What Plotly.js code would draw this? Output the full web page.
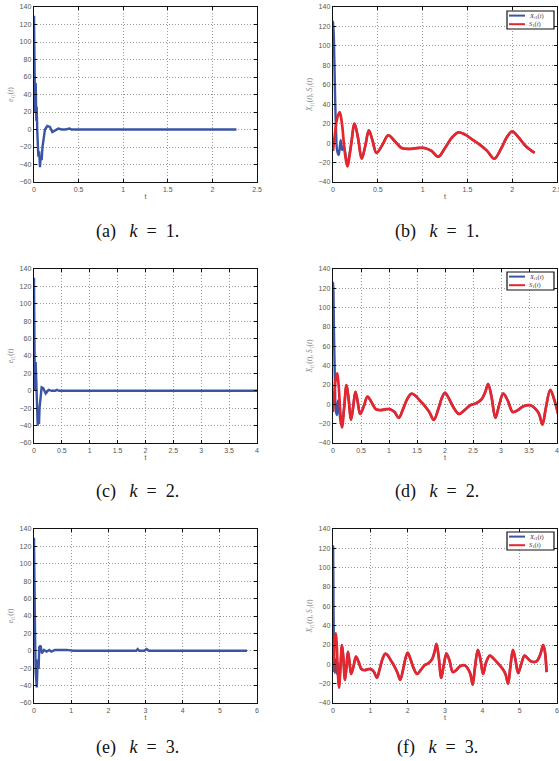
<!DOCTYPE html>
<html>
<head>
<meta charset="utf-8">
<script src="https://cdn.plot.ly/plotly-3.0.1.min.js"></script>
<style>html,body{margin:0;padding:0;background:#fff;}#chart{width:559px;height:761px;}</style>
</head>
<body>
<div id="chart"></div>
<script>
// ---------- data ----------
// error e_i1(t), panel (a) k=1
const tA = [0, 0.004, 0.012, 0.019, 0.026, 0.03, 0.037, 0.049, 0.058, 0.067, 0.076, 0.086, 0.095, 0.104, 0.123, 0.149, 0.179, 0.205, 0.235, 0.272, 0.31, 0.35, 0.40, 0.42, 2.27];
const eA = [130, 60, 20, 53, 10, 26, -3, -31, -25, -43, -30, -35, -20, -12, 0, 4, 3, -3, -1, 1, 0, 0, 1, 0, 0];
// panel (c) k=2
const tC = [0, 0.006, 0.015, 0.03, 0.045, 0.066, 0.08, 0.09, 0.1, 0.115, 0.137, 0.165, 0.21, 0.26, 0.32, 0.38, 0.41, 0.45, 4.0];
const eC = [130, 50, 0, 33, -11, -40, -26, -38, -19, -5, 4, 3, -3, 1, 0, 0, 1, 0, 0];
// panel (e) k=3
const tE = [0, 0.01, 0.03, 0.045, 0.06, 0.075, 0.1, 0.125, 0.14, 0.18, 0.21, 0.27, 0.34, 0.41, 0.47, 0.56, 0.88, 1.06, 2.75, 2.79, 2.83, 2.97, 3.03, 3.09, 5.73];
const eE = [130, 40, 13, -25, -38, -42, -10, -21, 4, 6, -3, 1, -1, 1, -1, 1, 1, 0, 0, 2, 0, 0, 2, 0, 0];

// reference signal S_1(t)
const tS = [0, 0.02, 0.045, 0.075, 0.10, 0.13, 0.16, 0.20, 0.24, 0.28, 0.32, 0.36, 0.40, 0.44, 0.485, 0.55, 0.616, 0.69, 0.765, 0.85, 0.95, 1.02, 1.10, 1.175, 1.25, 1.33, 1.40, 1.47, 1.55, 1.63, 1.72, 1.80, 1.88, 1.94, 2.0, 2.07, 2.15, 2.25, 2.35, 2.45, 2.55, 2.65, 2.72, 2.77, 2.83, 2.90, 2.97, 3.04, 3.12, 3.21, 3.30, 3.40, 3.53, 3.62, 3.68, 3.74, 3.80, 3.88, 3.95, 4.02, 4.10, 4.20, 4.30, 4.42, 4.55, 4.62, 4.69, 4.75, 4.82, 4.89, 4.96, 5.04, 5.13, 5.22, 5.31, 5.45, 5.55, 5.63, 5.68, 5.72];
const S1 = [-8, 8, 25, 32, 20, -8, -24, -3, 20, 5, -16, -3, 13, 3, -10, -2, 8, 2, -5, -6, -5, -5, -8, -14, -5, 6, 11, 9, 4, -1, -8, -16, -5, 6, 12, 6, -3, -10, -6, -1, 1, 5, 13, 21, 8, -14, 0, 11, 4, -8, -6, -2, -1, -5, -10, -21, -4, 15, 5, -10, 2, 9, 6, 1, -5, -10, -20, -3, 15, 4, -9, 0, 9, 6, 3, 3, 10, 20, 12, -8];

// early transient of X_i1(t) before it merges with S_1(t)
const tXb = [0, 0.004, 0.015, 0.025, 0.035, 0.045, 0.063, 0.075, 0.086, 0.1, 0.12, 0.14, 0.16, 0.2];
const Xb  = [120, 125, 86, 41, 10, -7, -12, -5, 3, -7, -3, -12, -22, -3];
const tXd = [0, 0.004, 0.02, 0.035, 0.05, 0.07, 0.09, 0.12, 0.155, 0.2];
const Xd  = [120, 126, 66, 22, -6, -11, 4, -11, -23, -3];
const tXf = [0, 0.004, 0.015, 0.03, 0.05, 0.07, 0.09, 0.11, 0.13, 0.16, 0.2];
const Xf  = [118, 122, 50, 10, -9, 5, -2, -10, 2, -24, -3];

const tEnd = [2.26, 4.02, 5.72];
const captions = ['(a)', '(b)', '(c)', '(d)', '(e)', '(f)'];
const kVals = [1, 1, 2, 2, 3, 3];
const xMax = [2.5, 4, 6];
const xStep = [0.5, 0.5, 1];

// ---------- helpers ----------
const BLUE = '#3b55a6', RED = '#e6252c';
function sPart(end) {
  const t = [], v = [];
  tS.forEach((x, i) => { if (x <= end + 1e-9) { t.push(x); v.push(S1[i]); } });
  return {t, v};
}
function xPart(te, ve, end) {
  const last = te[te.length - 1];
  const s = sPart(end);
  const t = te.slice(), v = ve.slice();
  s.t.forEach((x, i) => { if (x > last) { t.push(x); v.push(s.v[i]); } });
  return {t, v};
}

const traces = [];
const eSets = [[tA, eA], [tC, eC], [tE, eE]];
const xSets = [[tXb, Xb], [tXd, Xd], [tXf, Xf]];
const XNAME = '<i>X</i><sub><i>i</i>1</sub>(<i>t</i>)';
const SNAME = '<i>S</i><sub>1</sub>(<i>t</i>)';
const sfx = i => (i === 1 ? '' : String(i));

for (let r = 0; r < 3; r++) {
  const li = 2 * r + 1, ri = 2 * r + 2;
  traces.push({x: eSets[r][0], y: eSets[r][1], type: 'scatter', mode: 'lines',
    line: {color: BLUE, width: 2.4}, xaxis: 'x' + sfx(li), yaxis: 'y' + sfx(li), showlegend: false});
  const xp = xPart(xSets[r][0], xSets[r][1], tEnd[r]);
  const sp = sPart(tEnd[r]);
  traces.push({x: xp.t, y: xp.v, type: 'scatter', mode: 'lines', name: XNAME, showlegend: false,
    line: {color: BLUE, width: 2.4, shape: 'spline', smoothing: 1}, xaxis: 'x' + sfx(ri), yaxis: 'y' + sfx(ri)});
  traces.push({x: sp.t, y: sp.v, type: 'scatter', mode: 'lines', name: SNAME, showlegend: false,
    line: {color: RED, width: 2.7, shape: 'spline', smoothing: 1}, xaxis: 'x' + sfx(ri), yaxis: 'y' + sfx(ri)});
}

// ---------- layout ----------
const W = 559, H = 761;
const colX = [[34, 257], [333, 557]];
const rowY = [[7, 182], [269, 443], [529, 703]];
const tickFont = {family: 'Liberation Sans, Arial, sans-serif', size: 7, color: '#555'};
const layout = {width: W, height: H, margin: {l: 0, r: 0, t: 0, b: 0}, paper_bgcolor: '#fff', plot_bgcolor: '#fff',
  showlegend: false, annotations: [], shapes: []};

function axisBase() {
  return {showline: true, linecolor: '#111', linewidth: 1.3, mirror: 'ticks', ticks: 'inside', ticklen: 3, tickcolor: '#111',
    showgrid: true, gridcolor: '#999', griddash: '1px,2px', gridwidth: 1, zeroline: false, tickfont: tickFont,
    ticklabeloverflow: 'allow'};
}
for (let r = 0; r < 3; r++) {
  for (let c = 0; c < 2; c++) {
    const idx = 2 * r + c + 1;
    const xa = axisBase(), ya = axisBase();
    xa.domain = [colX[c][0] / W, colX[c][1] / W];
    xa.range = [0, xMax[r]];
    xa.dtick = xStep[r];
    xa.tick0 = 0;
    xa.anchor = 'y' + sfx(idx);
    xa.title = {text: 't', font: {family: 'Liberation Sans, Arial, sans-serif', size: 7, color: '#555'}, standoff: 2};
    ya.domain = [(H - rowY[r][1]) / H, (H - rowY[r][0]) / H];
    ya.range = c === 0 ? [-60, 140] : [-40, 140];
    ya.dtick = 20;
    ya.tick0 = 0;
    ya.anchor = 'x' + sfx(idx);
    ya.title = {text: c === 0 ? '<i>e</i><sub><i>i</i>1</sub>(<i>t</i>)' : XNAME + ', ' + SNAME,
      font: {family: 'Liberation Serif, serif', size: 7.5, color: '#888'}, standoff: 4};
    layout['xaxis' + sfx(idx)] = xa;
    layout['yaxis' + sfx(idx)] = ya;
    const cx = (colX[c][0] + colX[c][1]) / 2 - 8;
    const cy = [231, 491, 747][r];
    layout.annotations.push({xref: 'paper', yref: 'paper', x: cx / W, y: (H - cy) / H, xanchor: 'center', yanchor: 'middle',
      showarrow: false, text: captions[idx - 1] + '&nbsp;&nbsp;&nbsp;<i>k</i>&nbsp;&nbsp;=&nbsp;&nbsp;' + kVals[idx - 1] + '.',
      font: {family: 'Liberation Serif, Times New Roman, serif', size: 18, color: '#111'}});
  }
}

// compact legend boxes (top-right of each right-hand panel)
const legTop = [11, 272, 532];
const legL = 507, legR = 554, legH = 18;
const legItems = [[XNAME, BLUE], [SNAME, RED]];
legTop.forEach(T => {
  layout.shapes.push({type: 'rect', xref: 'paper', yref: 'paper', x0: legL / W, x1: legR / W,
    y0: (H - T - legH) / H, y1: (H - T) / H, line: {color: '#111', width: 1.2}, fillcolor: '#fff', layer: 'above'});
  legItems.forEach((it, j) => {
    const yy = T + 4.6 + j * 8.6;
    layout.shapes.push({type: 'line', xref: 'paper', yref: 'paper', x0: 509 / W, x1: 525 / W,
      y0: (H - yy) / H, y1: (H - yy) / H, line: {color: it[1], width: 2}, layer: 'above'});
    layout.annotations.push({xref: 'paper', yref: 'paper', x: 527 / W, y: (H - yy) / H, xanchor: 'left', yanchor: 'middle',
      showarrow: false, text: it[0], font: {family: 'Liberation Serif, serif', size: 6.5, color: '#333'}});
  });
});

Plotly.newPlot('chart', traces, layout, {displayModeBar: false, staticPlot: true});
</script>
</body>
</html>
